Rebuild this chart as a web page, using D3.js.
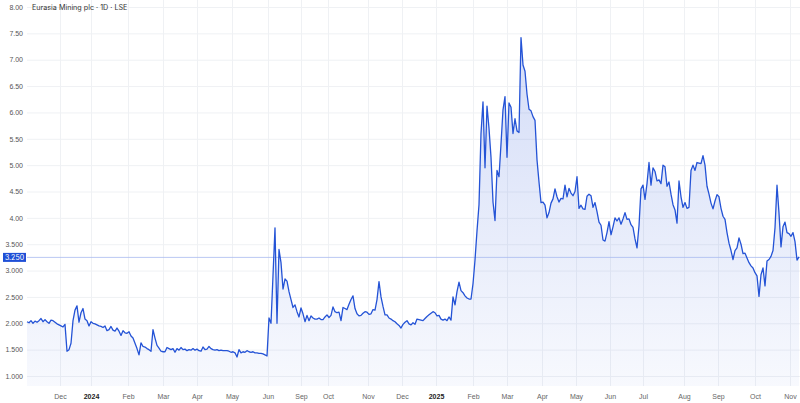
<!DOCTYPE html>
<html>
<head>
<meta charset="utf-8">
<title>Eurasia Mining plc</title>
<script src="https://cdn.jsdelivr.net/npm/d3@7"></script>
<style>
  body { margin: 0; background: #fff; }
  svg { display: block; font-family: Inter, "Noto Sans", sans-serif; }
  .grid path { display: none; }
  .grid line { stroke: #eff1f4; }
  .yaxis text { fill: #555; font-size: 7px; }
  .xaxis text { fill: #666; font-size: 7px; }
  .xaxis text.year { fill: #222; font-weight: 700; }
</style>
</head>
<body>
<svg id="chart"></svg>

<script>
// daily closes, GBp (~one sample per session)
var closes = [
  2.03, 2.01, 2.05, 2.00, 2.04, 2.02, 2.05, 2.09, 2.03, 2.07,
  2.03, 2.00, 2.06, 2.05, 2.02, 1.99, 1.97, 1.95, 1.93, 1.98,
  1.47, 1.50, 1.62, 2.05, 2.25, 2.33, 2.02, 2.20, 2.28, 2.08,
  2.05, 1.95, 2.03, 2.00, 1.99, 1.97, 1.95, 1.94, 1.92, 1.95,
  1.86, 1.88, 1.94, 1.87, 1.85, 1.91, 1.85, 1.77, 1.86, 1.82,
  1.81, 1.84, 1.76, 1.72, 1.62, 1.52, 1.40, 1.63, 1.56, 1.55,
  1.52, 1.50, 1.47, 1.88, 1.72, 1.58, 1.53, 1.47, 1.46, 1.46,
  1.54, 1.52, 1.50, 1.52, 1.45, 1.52, 1.49, 1.54, 1.50, 1.51,
  1.48, 1.50, 1.49, 1.52, 1.49, 1.51, 1.48, 1.47, 1.55, 1.50,
  1.51, 1.56, 1.52, 1.50, 1.49, 1.50, 1.48, 1.49, 1.48, 1.48,
  1.48, 1.47, 1.45, 1.46, 1.44, 1.36, 1.50, 1.44, 1.46, 1.45,
  1.48, 1.46, 1.45, 1.46, 1.44, 1.44, 1.43, 1.43, 1.42, 1.40,
  1.38, 2.10, 2.00, 2.90, 3.81, 2.00, 3.40, 3.15, 2.65, 2.84,
  2.80, 2.60, 2.45, 2.30, 2.35, 2.22, 2.12, 2.29, 2.18, 2.03,
  2.15, 2.05, 2.14, 2.10, 2.08, 2.08, 2.10, 2.07, 2.07, 2.12,
  2.16, 2.11, 2.15, 2.31, 2.22, 2.20, 2.21, 2.05, 2.30, 2.28,
  2.26, 2.36, 2.45, 2.52, 2.28, 2.18, 2.14, 2.15, 2.19, 2.22,
  2.21, 2.17, 2.18, 2.26, 2.25, 2.45, 2.79, 2.50, 2.32, 2.16,
  2.16, 2.10, 2.08, 2.05, 2.03, 1.99, 1.96, 1.91, 1.98, 2.02,
  2.05, 1.99, 1.97, 2.01, 1.98, 2.08, 2.07, 2.06, 2.05, 2.09,
  2.13, 2.16, 2.19, 2.22, 2.20, 2.14, 2.15, 2.08, 2.06, 2.08,
  2.05, 2.12, 2.06, 2.50, 2.35, 2.60, 2.78, 2.62, 2.58, 2.52,
  2.48, 2.46, 2.46, 2.75, 3.20, 3.75, 4.25, 5.60, 6.20, 4.95,
  6.12, 5.70, 5.15, 4.30, 3.95, 4.90, 4.78, 5.40, 6.05, 6.30,
  5.15, 6.18, 6.10, 5.60, 5.88, 5.65, 5.62, 7.42, 6.90, 6.78,
  6.35, 6.06, 6.03, 5.92, 5.85, 5.10, 4.68, 4.29, 4.30, 4.24,
  4.00, 4.10, 4.28, 4.36, 4.55, 4.40, 4.30, 4.37, 4.36, 4.62,
  4.40, 4.56, 4.47, 4.42, 4.50, 4.78, 4.18, 4.24, 4.17, 4.16,
  4.41, 4.45, 4.42, 4.20, 4.29, 4.12, 3.92, 3.86, 3.58, 3.56,
  3.72, 3.93, 3.68, 3.83, 4.00, 3.94, 4.00, 3.88, 3.98, 4.10,
  3.97, 3.98, 3.87, 3.82, 3.60, 3.43, 3.85, 4.55, 4.62, 4.35,
  4.65, 5.05, 4.62, 4.95, 4.88, 4.70, 4.72, 4.65, 5.00, 4.97,
  4.60, 4.68, 4.45, 4.25, 4.15, 3.90, 4.70, 4.40, 4.20, 4.29,
  4.18, 4.20, 4.90, 5.00, 4.90, 5.05, 5.04, 5.03, 5.18, 5.00,
  4.60, 4.45, 4.28, 4.17, 4.32, 4.44, 4.40, 4.18, 4.03, 3.97,
  3.72, 3.52, 3.38, 3.21, 3.38, 3.43, 3.62, 3.50, 3.32, 3.33,
  3.24, 3.15, 3.09, 3.05, 2.96, 2.90, 2.51, 2.92, 3.05, 2.71,
  3.18, 3.21, 3.27, 3.38, 3.81, 4.62, 4.09, 3.45, 3.83, 3.92,
  3.72, 3.70, 3.65, 3.72, 3.55, 3.20, 3.26
];

var lastPrice = 3.25;
var lastLabel = "3.250";

// price axis
var yTicks = [8, 7.5, 7, 6.5, 6, 5.5, 5, 4.5, 4, 3.5, 3, 2.5, 2, 1.5, 1];
var yLabels = ["8.00", "7.50", "7.00", "6.50", "6.00", "5.50", "5.00", "4.50", "4.00",
               "3.500", "3.000", "2.500", "2.000", "1.500", "1.000"];

// month starts, as position in the session list
var monthAt = [16.5, 32, 50.5, 68, 85, 102.5, 120.5, 137, 150.5, 170.5, 187.5,
               204.5, 223, 240, 257.5, 274.5, 291.5, 308, 328.5, 345.5, 364, 381.5];
var monthLabels = ["Dec", "2024", "Feb", "Mar", "Apr", "May", "Jun", "Sep", "Oct", "Nov", "Dec",
                   "2025", "Feb", "Mar", "Apr", "May", "Jun", "Jul", "Aug", "Sep", "Oct", "Nov"];

var W = 800, H = 403;
var left = 27, right = 799, bottom = 386;

var svg = d3.select("#chart").attr("width", W).attr("height", H);

var x = d3.scaleLinear().domain([0, closes.length - 1]).range([left, right]);
var y = d3.scaleLinear().domain([1, 8]).range([376, 7]);

// gridlines + labels
svg.append("g")
    .attr("class", "grid yaxis")
    .attr("transform", "translate(" + left + ",0)")
    .call(d3.axisLeft(y)
      .tickValues(yTicks)
      .tickSize(-(W - left))
      .tickPadding(4)
      .tickFormat(function(d, i) { return yLabels[i]; }));

svg.append("g")
    .attr("class", "grid xaxis")
    .attr("transform", "translate(0," + bottom + ")")
    .call(d3.axisBottom(x)
      .tickValues(monthAt)
      .tickSize(-bottom)
      .tickPadding(8.5)
      .tickFormat(function(d, i) { return monthLabels[i]; }))
  .selectAll("text")
    .classed("year", function(d, i) { return /^\d{4}$/.test(monthLabels[i]); });

// area gradient
var grad = svg.append("defs").append("linearGradient")
    .attr("id", "fillGrad")
    .attr("gradientUnits", "userSpaceOnUse")
    .attr("x1", 0).attr("x2", 0)
    .attr("y1", y(7.4)).attr("y2", bottom);
grad.append("stop").attr("offset", 0).attr("stop-color", "#2552d8").attr("stop-opacity", 0.2);
grad.append("stop").attr("offset", 1).attr("stop-color", "#2552d8").attr("stop-opacity", 0.035);

svg.append("path")
    .datum(closes)
    .attr("fill", "url(#fillGrad)")
    .attr("d", d3.area()
      .x(function(d, i) { return x(i); })
      .y0(bottom)
      .y1(function(d) { return y(d); }));

// last price line
svg.append("line")
    .attr("x1", left).attr("x2", W)
    .attr("y1", y(lastPrice)).attr("y2", y(lastPrice))
    .attr("stroke", "#a9baf0")
    .attr("stroke-width", 0.8);

svg.append("path")
    .datum(closes)
    .attr("fill", "none")
    .attr("stroke", "#2453d6")
    .attr("stroke-width", 1.3)
    .attr("stroke-linejoin", "round")
    .attr("d", d3.line()
      .x(function(d, i) { return x(i); })
      .y(function(d) { return y(d); }));

// price badge
svg.append("rect")
    .attr("x", 3).attr("y", y(lastPrice) - 4.5)
    .attr("width", 23).attr("height", 9)
    .attr("fill", "#1f4fd6");
svg.append("text")
    .attr("x", 14.5).attr("y", y(lastPrice))
    .attr("dy", "0.35em")
    .attr("text-anchor", "middle")
    .attr("fill", "#fff")
    .attr("font-size", 7)
    .text(lastLabel);

// title
svg.append("text")
    .attr("x", 32).attr("y", 7)
    .attr("dy", "0.35em")
    .attr("fill", "#333")
    .attr("font-size", 7.2)
    .text("Eurasia Mining plc \u00b7 1D \u00b7 LSE");
</script>
</body>
</html>
